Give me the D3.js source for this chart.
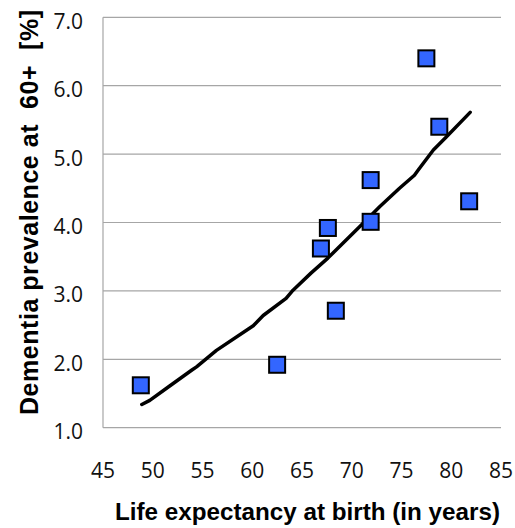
<!DOCTYPE html>
<html>
<head>
<meta charset="utf-8">
<script src="https://cdn.jsdelivr.net/npm/d3@7"></script>
<style>
  body { margin: 0; background: #fff; }
  svg { display: block; }
</style>
</head>
<body>
<div id="chart"></div>
<script>
// observed countries/regions
const lifeExp = [77.5, 78.8, 71.9, 81.8, 71.9, 67.6, 66.9, 68.4, 62.5, 48.8];
const prevalence = [6.40, 5.40, 4.62, 4.31, 4.01, 3.92, 3.62, 2.71, 1.92, 1.62];

// trend line
const trendX = [48.9, 49.7, 51.7, 53.9, 54.4, 56.4, 60.1, 61.1, 63.4, 64.1, 65.9, 67.6, 71.5, 72.8, 74.8, 76.3, 76.7, 78.2, 79.5, 81.9];
const trendY = [1.34, 1.40, 1.61, 1.84, 1.89, 2.13, 2.49, 2.64, 2.89, 3.01, 3.26, 3.48, 4.04, 4.23, 4.50, 4.69, 4.77, 5.06, 5.25, 5.61];

const xTicks = [45, 50, 55, 60, 65, 70, 75, 80, 85];
const yTicks = [1, 2, 3, 4, 5, 6, 7];

const xTitle = 'Life expectancy at birth (in years)';
const yTitle = 'Dementia prevalence at\u00a0 60+\u00a0 [%]';

const width = 515, height = 528;
const margin = { top: 17.3, right: 14, bottom: 100.3, left: 103 };

const svg = d3.select('#chart').append('svg')
    .attr('width', width)
    .attr('height', height);

const x = d3.scaleLinear()
    .domain([45, 85])
    .range([margin.left, width - margin.right]);

const y = d3.scaleLinear()
    .domain([1, 7])
    .range([height - margin.bottom, margin.top]);

// gridlines
svg.append('g')
    .selectAll('line')
    .data(yTicks)
    .join('line')
    .attr('x1', x(45))
    .attr('x2', x(85))
    .attr('y1', d => y(d))
    .attr('y2', d => y(d))
    .attr('stroke', '#a6a6a6')
    .attr('stroke-width', 1.2);

// left axis line
svg.append('line')
    .attr('x1', x(45)).attr('x2', x(45))
    .attr('y1', y(1)).attr('y2', y(7))
    .attr('stroke', '#a6a6a6')
    .attr('stroke-width', 1.2);

// y tick labels
svg.append('g')
    .selectAll('text')
    .data(yTicks)
    .join('text')
    .attr('x', x(45) - 20)
    .attr('y', d => y(d) + 4)
    .attr('dy', '0.36em')
    .attr('text-anchor', 'end')
    .style('font-family', '"Open Sans", sans-serif')
    .style('font-size', '21px')
    .attr('fill', '#111')
    .text(d => d.toFixed(1));

// x tick labels
svg.append('g')
    .selectAll('text')
    .data(xTicks)
    .join('text')
    .attr('x', d => x(d))
    .attr('y', 470.5)
    .attr('dy', '0.36em')
    .attr('text-anchor', 'middle')
    .style('font-family', '"Open Sans", sans-serif')
    .style('font-size', '21px')
    .attr('fill', '#111')
    .text(d => d);

// axis titles
svg.append('text')
    .attr('x', 115)
    .attr('y', 520)
    .attr('textLength', 385)
    .attr('lengthAdjust', 'spacingAndGlyphs')
    .style('font-family', '"Liberation Sans", Arial, sans-serif')
    .style('font-size', '24px')
    .style('font-weight', 'bold')
    .attr('fill', '#000')
    .text(xTitle);

svg.append('text')
    .attr('transform', 'translate(37.5,415) rotate(-90)')
    .attr('x', 0)
    .attr('y', 0)
    .attr('textLength', 405)
    .attr('lengthAdjust', 'spacing')
    .style('font-family', '"Liberation Sans", Arial, sans-serif')
    .style('font-size', '25px')
    .style('font-weight', 'bold')
    .attr('fill', '#000')
    .text(yTitle);

// trend line
const trend = trendX.map((v, i) => ({ x: v, y: trendY[i] }));
const line = d3.line()
    .x(d => x(d.x))
    .y(d => y(d.y));

svg.append('path')
    .datum(trend)
    .attr('fill', 'none')
    .attr('stroke', '#000')
    .attr('stroke-width', 3.5)
    .attr('stroke-linecap', 'round')
    .attr('stroke-linejoin', 'round')
    .attr('d', line);

// markers
const pts = lifeExp.map((v, i) => ({ x: v, y: prevalence[i] }));
const size = 16;
svg.append('g')
    .selectAll('rect')
    .data(pts)
    .join('rect')
    .attr('x', d => x(d.x) - size / 2)
    .attr('y', d => y(d.y) - size / 2)
    .attr('width', size)
    .attr('height', size)
    .attr('fill', '#3366ff')
    .attr('stroke', '#000')
    .attr('stroke-width', 2);
</script>
</body>
</html>
